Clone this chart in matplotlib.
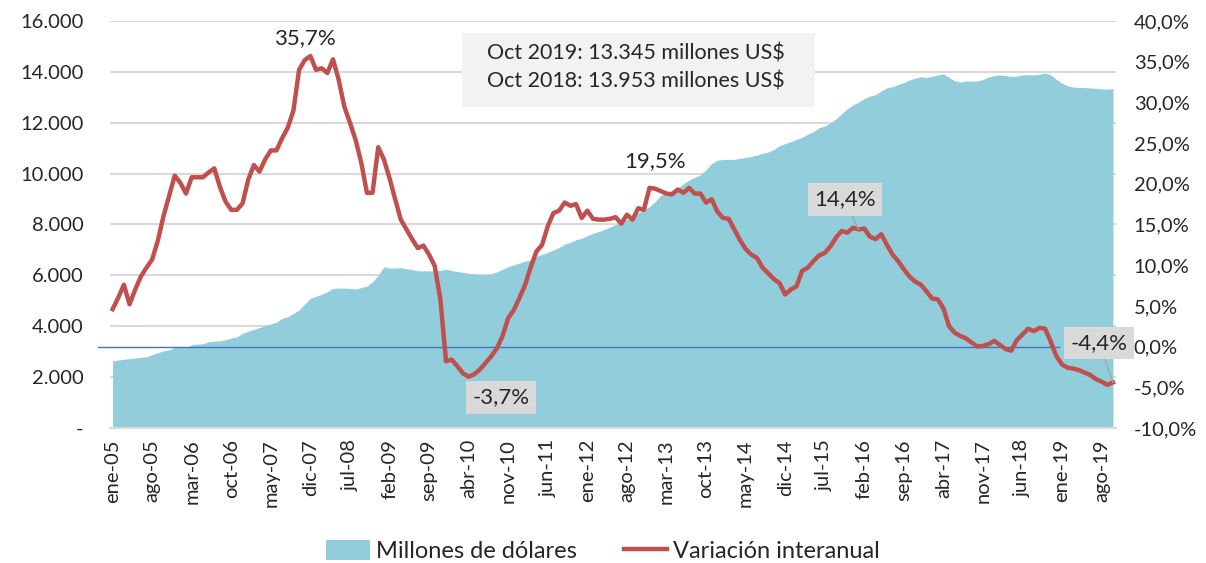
import matplotlib
matplotlib.use("Agg")
import matplotlib.pyplot as plt
from matplotlib.lines import Line2D
from matplotlib.patches import Patch, Rectangle
import numpy as np

plt.rcParams['font.family'] = ['Lato', 'DejaVu Sans']

# Monthly data ene-05 .. oct-19
millones = [
    2640, 2670, 2700, 2730, 2750, 2780, 2800, 2880, 2960, 3030, 3070,
    3170, 3180, 3160, 3270, 3300, 3310, 3390, 3410, 3430, 3470,
    3530, 3580, 3720, 3800, 3880, 3950, 4020, 4090, 4160, 4310,
    4380, 4500, 4640, 4870, 5100, 5180, 5260, 5360, 5490, 5500,
    5500, 5490, 5460, 5520, 5580, 5750, 6000, 6340, 6280, 6290,
    6300, 6260, 6230, 6180, 6180, 6180, 6180, 6200, 6240, 6190,
    6150, 6120, 6080, 6060, 6030, 6010, 6060, 6140, 6240, 6340,
    6420, 6480, 6560, 6600, 6750, 6820, 6900, 7000, 7100, 7230,
    7300, 7400, 7460, 7560, 7650, 7720, 7800, 7900, 8000, 8100,
    8200, 8370, 8450, 8600, 8700, 8900, 9150, 9250, 9350, 9430,
    9600, 9750, 9850, 9950, 10150, 10400, 10520, 10560, 10560, 10560,
    10600, 10630, 10680, 10730, 10800, 10850, 10950, 11100, 11180, 11260,
    11350, 11430, 11550, 11650, 11800, 11870, 12000, 12150, 12350, 12550,
    12700, 12820, 12950, 13050, 13100, 13250, 13370, 13420, 13500, 13580,
    13680, 13750, 13810, 13780, 13820, 13880, 13920, 13780, 13650, 13600,
    13640, 13640, 13640, 13700, 13800, 13850, 13880, 13860, 13820, 13830,
    13880, 13890, 13880, 13900, 13953, 13880, 13700, 13550, 13450, 13400,
    13390, 13380, 13370, 13350, 13330, 13320, 13345,
]

variacion = [
    4.6, 6.0, 7.6, 5.2, 7.0, 8.6, 9.7, 10.7, 13.0, 16.0, 18.5,
    21.0, 20.1, 18.8, 20.8, 20.8, 20.8, 21.4, 21.9, 19.6, 17.8,
    16.8, 16.8, 17.6, 20.5, 22.3, 21.5, 23.0, 24.1, 24.1, 25.6,
    26.9, 29.0, 34.0, 35.2, 35.7, 34.0, 34.2, 33.6, 35.3, 32.8,
    29.5, 27.5, 25.4, 22.6, 18.9, 18.9, 24.5, 23.0, 20.7, 18.1,
    15.6, 14.4, 13.2, 12.1, 12.4, 11.3, 9.9, 5.8, -1.8, -1.6,
    -2.4, -3.3, -3.7, -3.4, -2.8, -2.0, -1.2, -0.2, 1.3, 3.5,
    4.5, 6.0, 7.6, 9.8, 11.7, 12.5, 14.8, 16.4, 16.7, 17.7,
    17.3, 17.5, 15.8, 16.7, 15.7, 15.6, 15.6, 15.7, 15.9, 15.1,
    16.2, 15.6, 17.0, 16.8, 19.5, 19.4, 19.1, 18.8, 18.7, 19.3,
    18.9, 19.5, 18.8, 18.8, 17.7, 18.1, 16.6, 15.8, 15.7, 14.4,
    13.1, 12.0, 11.3, 10.9, 9.7, 9.0, 8.3, 7.8, 6.4, 7.0,
    7.4, 9.3, 9.7, 10.5, 11.2, 11.5, 12.3, 13.4, 14.2, 14.0,
    14.6, 14.4, 14.5, 13.5, 13.2, 13.8, 12.5, 11.3, 10.5, 9.5,
    8.6, 8.0, 7.6, 6.8, 5.9, 5.8, 4.7, 2.5, 1.7, 1.3,
    1.0, 0.5, 0.0, 0.1, 0.3, 0.7, 0.2, -0.3, -0.5, 0.8,
    1.5, 2.2, 1.9, 2.3, 2.2, 0.6, -1.2, -2.2, -2.6, -2.7,
    -2.9, -3.2, -3.5, -4.0, -4.3, -4.7, -4.4,
]

tick_labels = ["ene-05", "ago-05", "mar-06", "oct-06", "may-07", "dic-07", "jul-08",
               "feb-09", "sep-09", "abr-10", "nov-10", "jun-11", "ene-12", "ago-12",
               "mar-13", "oct-13", "may-14", "dic-14", "jul-15", "feb-16", "sep-16",
               "abr-17", "nov-17", "jun-18", "ene-19", "ago-19"]

left_ticks = [0, 2000, 4000, 6000, 8000, 10000, 12000, 14000, 16000]
right_ticks = [-10, -5, 0, 5, 10, 15, 20, 25, 30, 35, 40]

info_lines = ["Oct 2019: 13.345 millones US$", "Oct 2018: 13.953 millones US$"]

AREA = '#92CDDC'
RED = '#C0504D'
TXT = '#262626'
FS = 14.5
FA = 16

x = np.arange(len(millones))

fig = plt.figure(figsize=(12.06, 5.63), dpi=100)
ax = fig.add_axes([0.0910, 0.2398, 0.8342, 0.7229])
ax2 = ax.twinx()

ax.set_axisbelow(True)
ax.fill_between(x, millones, 0, color=AREA, lw=0, zorder=1)
ax.set_xlim(-0.5, len(millones) - 0.5)
ax.set_ylim(0, 16000)
ax.set_yticks(left_ticks)
ax.set_yticklabels(['-' if v == 0 else f"{v:,}".replace(',', '.') for v in left_ticks])
ax.yaxis.grid(True, color='#D9D9D9', lw=1.5)
ax.set_xticks(np.arange(0, len(millones), 7)[:len(tick_labels)])
ax.set_xticklabels(tick_labels, rotation=90, va='top', ha='center')
ax.tick_params(axis='both', length=0, labelsize=FS, colors=TXT)
ax.tick_params(axis='y', pad=19)
ax.tick_params(axis='x', pad=8)
for s in ['top', 'left', 'right']:
    ax.spines[s].set_visible(False)
ax.spines['bottom'].set_color('#D9D9D9')
ax.spines['bottom'].set_linewidth(1.5)

ax2.set_ylim(-10, 40)
ax2.set_yticks(right_ticks)
ax2.set_yticklabels([f"{v:.1f}%".replace('.', ',') for v in right_ticks])
ax2.tick_params(axis='y', length=0, labelsize=FS, colors=TXT, pad=13)
for s in ['top', 'left', 'right', 'bottom']:
    ax2.spines[s].set_visible(False)

ax2.axhline(0, xmin=-0.012, xmax=0.944, color='#4472C4', lw=1.0, clip_on=False, zorder=2)
ax2.plot(x, variacion, color=RED, lw=3.2, solid_joinstyle='round', zorder=3)

# Annotations
i_max = int(np.argmax(variacion))
ax2.annotate("35,7%", xy=(i_max, variacion[i_max]), xytext=(-4, 13), textcoords='offset points',
             ha='center', va='center', fontsize=FA, color=TXT)
ax2.annotate("19,5%", xy=(95, variacion[95]), xytext=(4, 19), textcoords='offset points',
             ha='center', va='center', fontsize=FA, color=TXT)
box = dict(boxstyle='square,pad=0.28', fc='#D9D9D9', ec='none')
ax2.annotate("14,4%", xy=(132, variacion[132]), xytext=(-10, 21.5), textcoords='offset points',
             ha='center', va='center', fontsize=FA, color=TXT, bbox=box,
             arrowprops=dict(arrowstyle='-', color='#A6A6A6', lw=1, shrinkA=0, shrinkB=0))
ax2.annotate("-3,7%", xy=(63, variacion[63]), xytext=(23.5, -15), textcoords='offset points',
             ha='center', va='center', fontsize=FA, color=TXT, bbox=box)
ax2.annotate("-4,4%", xy=(177, variacion[177]), xytext=(-10, 28.5), textcoords='offset points',
             ha='center', va='center', fontsize=FA, color=TXT, bbox=box, zorder=5,
             arrowprops=dict(arrowstyle='-', color='#A6A6A6', lw=1, shrinkA=0, shrinkB=0))

# Info box
W, H = 1206.0, 563.0
fig.patches.append(Rectangle((462 / W, 1 - 107 / H), 353 / W, 74 / H, transform=fig.transFigure,
                             fc='#F2F2F2', ec='none', zorder=4))
fig.text(487 / W, 1 - 53 / H, info_lines[0], ha='left', va='center', fontsize=15.5, color=TXT, zorder=5)
fig.text(487 / W, 1 - 82 / H, info_lines[1], ha='left', va='center', fontsize=15.5, color=TXT, zorder=5)

handles = [Patch(facecolor=AREA, edgecolor='none'), Line2D([0], [0], color=RED, lw=3.2)]
fig.legend(handles, ["Millones de dólares", "Variación interanual"], loc='center',
           bbox_to_anchor=(0.5, 1 - 551 / H), ncol=2, frameon=False, fontsize=17,
           handlelength=1.85, handleheight=0.9, columnspacing=2.0, handletextpad=0.25,
           labelcolor=TXT, borderpad=0)

fig.savefig("out.png", dpi=100)
